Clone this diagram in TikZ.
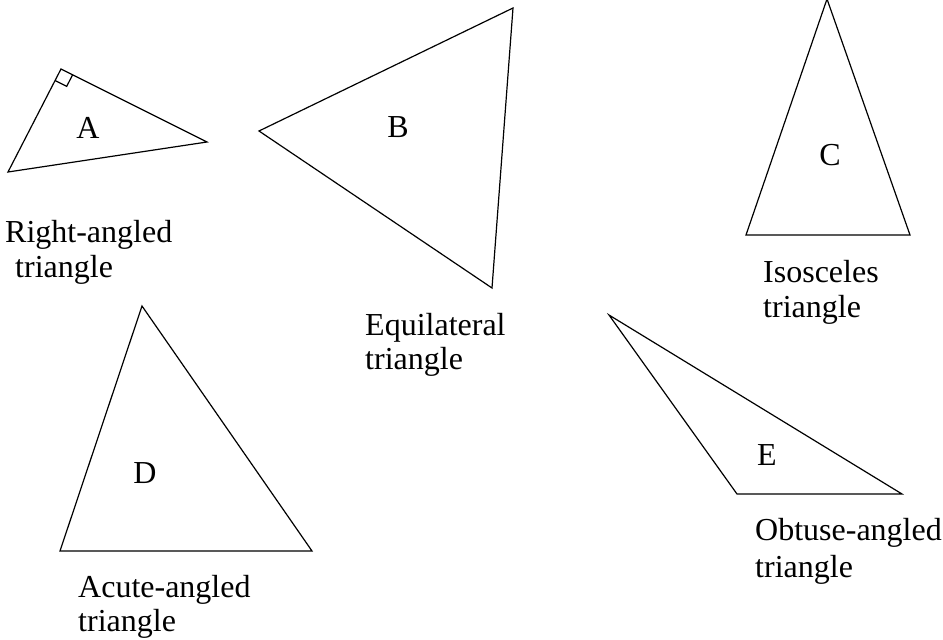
\documentclass[tikz,border=0pt]{standalone}
\usepackage{fontspec}
\setmainfont{Liberation Serif}
\usetikzlibrary{calc}
\begin{document}
\begin{tikzpicture}[x=1pt,y=-1pt,
  tri/.style={draw=black,line width=1.2pt,line join=miter},
  lbl/.style={font=\fontsize{32}{36}\selectfont,inner sep=0pt,anchor=base west,align=left},
  letter/.style={font=\fontsize{32}{36}\selectfont,inner sep=0pt}]
\useasboundingbox (0,0) rectangle (943,640);
% A
\coordinate (a1) at (8,172);
\coordinate (a2) at (61,69);
\coordinate (a3) at (207,142);
\draw[tri] (a1) -- (a2) -- (a3) -- cycle;
\coordinate (m1) at ($(a2)!13pt!(a1)$);
\coordinate (m3) at ($(a2)!13pt!(a3)$);
\coordinate (mc) at ($(m1)+(m3)-(a2)$);
\draw[line width=1.2pt] (m1) -- (mc) -- (m3);
\node[letter] (la) at (88,128) {A};
% B
\coordinate (b1) at (259,131);
\coordinate (b2) at (513,8);
\coordinate (b3) at (492,288);
\draw[tri] (b1) -- (b2) -- (b3) -- cycle;
\node[letter] (lb) at (398,127) {B};
% C
\coordinate (c1) at (827,-1);
\coordinate (c2) at (746,235);
\coordinate (c3) at (910,235);
\draw[tri] (c1) -- (c2) -- (c3) -- cycle;
\node[letter] (lc) at (830,155) {C};
% D
\coordinate (d1) at (142,306);
\coordinate (d2) at (60,551);
\coordinate (d3) at (312,551);
\draw[tri] (d1) -- (d2) -- (d3) -- cycle;
\node[letter] (ld) at (145,473) {D};
% E
\coordinate (e1) at (609,315);
\coordinate (e2) at (737,494);
\coordinate (e3) at (902,494);
\draw[tri] (e1) -- (e2) -- (e3) -- cycle;
\node[letter] (le) at (767,455) {E};
% captions
\node[lbl] (ta1) at (5,242) {Right-angled};
\node[lbl] (ta2) at (15,277) {triangle};
\node[lbl] (tb1) at (365,335) {Equilateral};
\node[lbl] (tb2) at (365,369) {triangle};
\node[lbl] (tc1) at (763,282) {Isosceles};
\node[lbl] (tc2) at (763,317) {triangle};
\node[lbl] (td1) at (78,597) {Acute-angled};
\node[lbl] (td2) at (78,631) {triangle};
\node[lbl] (te1) at (755,540) {Obtuse-angled};
\node[lbl] (te2) at (755,577) {triangle};
\end{tikzpicture}
\end{document}
